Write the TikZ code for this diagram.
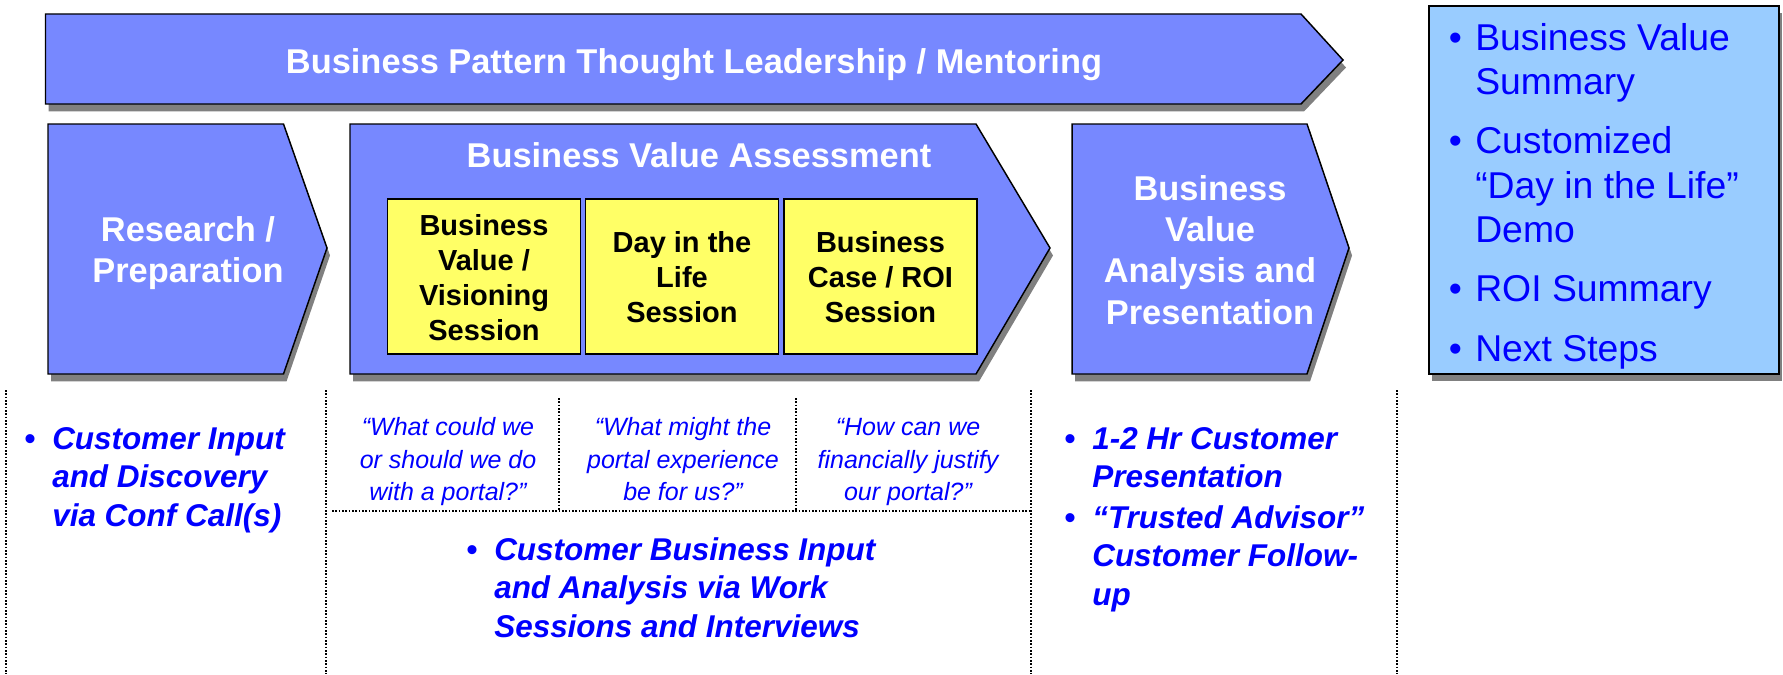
\documentclass[tikz,border=0pt]{standalone}
\usepackage{fontspec}
\setmainfont{Liberation Sans}
\usetikzlibrary{shadows}

\definecolor{phaseblue}{RGB}{119,136,255}
\definecolor{sessionyellow}{RGB}{255,255,102}
\definecolor{summaryblue}{RGB}{153,204,255}
\definecolor{textblue}{RGB}{0,0,255}
\definecolor{shadowgray}{RGB}{128,128,128}

% bullet hung to the left of a line
\newcommand{\hangbullet}[1]{\llap{\upshape\textbullet\hspace{#1}}}

\begin{document}
\begin{tikzpicture}[x=0.75pt, y=-0.75pt,
  phase/.style={fill=phaseblue, draw=black, line width=1.1pt, line join=miter,
    drop shadow={shadow xshift=2.25pt, shadow yshift=-5.6pt, fill=shadowgray, opacity=1}},
  summarybox/.style={fill=summaryblue, draw=black, line width=1.1pt,
    drop shadow={shadow xshift=2.25pt, shadow yshift=-5.6pt, fill=shadowgray, opacity=1}},
  sessionbox/.style={fill=sessionyellow, draw=black, line width=1pt},
  title/.style={text=white, font=\fontsize{25.8pt}{31pt}\selectfont\bfseries, inner sep=0pt, align=center},
  sessiontext/.style={text=black, font=\fontsize{21.75pt}{26.25pt}\selectfont\bfseries, inner sep=0pt, align=center},
  question/.style={text=textblue, font=\fontsize{18.75pt}{24.4pt}\selectfont\itshape, inner sep=0pt, align=center},
  outcome/.style={text=textblue, font=\fontsize{23.6pt}{28.9pt}\selectfont\bfseries\itshape, inner sep=0pt, align=left, anchor=north west},
  deliverable/.style={text=textblue, font=\fontsize{28pt}{33.25pt}\selectfont, inner sep=0pt, align=left, anchor=north west},
  divider/.style={line width=1.2pt, dash pattern=on 1.2pt off 1.3pt},
]
\useasboundingbox (0,0) rectangle (1783,674);

% ---- phase arrows ----
\path[phase] (45.5,14) -- (1301,14) -- (1343,60) -- (1301,104) -- (45.5,104) -- cycle;
\path[phase] (48,124) -- (283.5,124) -- (327,248) -- (283.5,374) -- (48,374) -- cycle;
\path[phase] (350,124) -- (976,124) -- (1050,248) -- (976,374) -- (350,374) -- cycle;
\path[phase] (1072,124) -- (1307,124) -- (1349,248) -- (1307,374) -- (1072,374) -- cycle;

% ---- deliverables box ----
\path[summarybox] (1429,6) rectangle (1779,374);

% ---- work sessions ----
\path[sessionbox] (387.5,199) rectangle (580.4,354);
\path[sessionbox] (585.3,199) rectangle (778.6,354);
\path[sessionbox] (784,199) rectangle (977,354);

% ---- phase titles ----
\node[title, anchor=base] (mentoring) at (694,73.3) {Business Pattern Thought Leadership / Mentoring};
\node[title] (research) at (188,254) {\strut Research /\\\strut Preparation};
\node[title, anchor=base] (assessment) at (699,167.7) {Business Value Assessment};
\node[title] (analysis) at (1210,254) {\strut Business\\\strut Value\\\strut Analysis and\\\strut Presentation};

% ---- session labels ----
\node[sessiontext] (visioning) at (484,280.5) {\strut Business\\\strut Value /\\\strut Visioning\\\strut Session};
\node[sessiontext] (dayinlife) at (682,280.5) {\strut Day in the\\\strut Life\\\strut Session};
\node[sessiontext] (roi) at (880.5,280.5) {\strut Business\\\strut Case / ROI\\\strut Session};

% ---- dividers ----
\coordinate (d1t) at (5.7,390);   \coordinate (d1b) at (5.7,674);
\coordinate (d2t) at (326,390);   \coordinate (d2b) at (326,674);
\coordinate (d3t) at (1031,390);  \coordinate (d3b) at (1031,674);
\coordinate (d4t) at (1397,390);  \coordinate (d4b) at (1397,674);
\coordinate (q1t) at (559,398);   \coordinate (q1b) at (559,511);
\coordinate (q2t) at (796,398);   \coordinate (q2b) at (796,511);
\coordinate (hl) at (332,511);    \coordinate (hr) at (1031,511);
\draw[divider] (d1t) -- (d1b);
\draw[divider] (d2t) -- (d2b);
\draw[divider] (d3t) -- (d3b);
\draw[divider] (d4t) -- (d4b);
\draw[divider] (q1t) -- (q1b);
\draw[divider] (q2t) -- (q2b);
\draw[divider] (hl) -- (hr);

% ---- session questions ----
\node[question] (ask1) at (448,461.5) {\strut “What could we\\\strut or should we do\\\strut with a portal?”};
\node[question] (ask2) at (683,461.5) {\strut “What might the\\\strut portal experience\\\strut be for us?”};
\node[question] (ask3) at (908,461.5) {\strut “How can we\\\strut financially justify\\\strut our portal?”};

% ---- outcomes per phase ----
\node[outcome] (discovery) at (52,422) {\hangbullet{12.4pt}\strut Customer Input\\\strut and Discovery\\\strut via Conf Call(s)};
\node[outcome] (workinput) at (494,533) {\hangbullet{12.4pt}\strut Customer Business Input\\\strut and Analysis via Work\\\strut Sessions and Interviews};
\node[outcome] (presentation) at (1092,422) {\hangbullet{12.4pt}\strut 1-2 Hr Customer\\\strut Presentation};
\node[outcome] (followup) at (1092,501) {\hangbullet{12.4pt}\strut “Trusted Advisor”\\\strut Customer Follow-\\\strut up};

% ---- deliverables ----
\node[deliverable] (deliverables) at (1475,19) {\hangbullet{10pt}\strut Business Value\\\strut Summary\\[11.25pt]
  \hangbullet{10pt}\strut Customized\\\strut “Day in the Life”\\\strut Demo\\[11.25pt]
  \hangbullet{10pt}\strut ROI Summary\\[11.25pt]
  \hangbullet{10pt}\strut Next Steps};
\end{tikzpicture}
\end{document}
